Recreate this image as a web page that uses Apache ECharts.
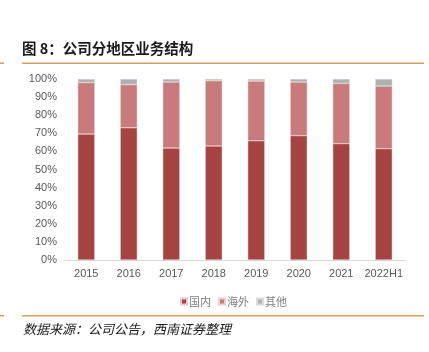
<!DOCTYPE html>
<html><head><meta charset="utf-8">
<script src="https://cdn.jsdelivr.net/npm/echarts@6/dist/echarts.min.js"></script>
<style>html,body{margin:0;padding:0;background:#fff}#c{width:429px;height:352px}</style>
</head><body><div id="c"></div>
<script>
const categories = ['2015','2016','2017','2018','2019','2020','2021','2022H1'];
const domestic = [69.6, 73.1, 61.9, 63.0, 65.9, 68.7, 64.3, 61.5];
const overseas = [28.4, 23.8, 36.4, 36.0, 33.0, 29.6, 33.3, 34.6];
const other = [2.0, 3.1, 1.7, 1.0, 1.1, 1.7, 2.4, 3.9];
const yTicks = [0,10,20,30,40,50,60,70,80,90,100];

const chart = echarts.init(document.getElementById('c'));
const font = '"Noto Sans CJK SC", "Liberation Sans", sans-serif';
chart.setOption({
  animation:false,
  textStyle:{fontFamily:font},
  grid:{left:65,right:24,top:79,bottom:92},
  legend:{
    data:['国内','海外','其他'], left:175, top:291,
    itemWidth:6, itemHeight:6, itemGap:7,
    icon:'rect',
    textStyle:{color:'#808080', fontSize:11, padding:[0,0,0,-3]}
  },
  xAxis:{
    type:'category', data:categories,
    axisLine:{lineStyle:{color:'#d9d9d9'}},
    axisTick:{show:false},
    axisLabel:{color:'#595959', fontSize:11, margin:8, interval:0, fontFamily:'"Liberation Sans", Arial, sans-serif'}
  },
  yAxis:{
    type:'value', min:0, max:100, interval:10,
    axisLine:{show:false}, axisTick:{show:false}, splitLine:{show:false},
    axisLabel:{color:'#595959', fontSize:11, margin:8, fontFamily:'"Liberation Sans", Arial, sans-serif',
      formatter:v=> yTicks.includes(v) ? v+'%' : ''}
  },
  series:[
    {name:'国内', type:'bar', stack:'a', data:domestic, barWidth:17,
     itemStyle:{color:'#A64442', borderColor:'#e8c8c8', borderWidth:0.5}},
    {name:'海外', type:'bar', stack:'a', data:overseas,
     itemStyle:{color:'#C97B7B', borderColor:'#ead0d0', borderWidth:0.5}},
    {name:'其他', type:'bar', stack:'a', data:other,
     itemStyle:{color:'#B0B0B0', borderColor:'#dcdcdc', borderWidth:0.5}}
  ],
  graphic:[
    {type:'text', left:22, top:41, style:{text:'图 8：公司分地区业务结构', font:'bold 14.5px '+font, fill:'#1a1a1a'}},
    {type:'rect', shape:{x:22,y:62.5,width:402,height:1.5}, style:{fill:'#D4A060'}},
    {type:'rect', shape:{x:0,y:62.5,width:4,height:1.5}, style:{fill:'#D4A060'}},
    {type:'rect', shape:{x:22,y:315,width:402,height:1.5}, style:{fill:'#D4A060'}},
    {type:'rect', shape:{x:0,y:315,width:4,height:1.5}, style:{fill:'#D4A060'}},
    {type:'text', left:23, top:322.5, style:{text:'数据来源：公司公告，西南证券整理', font:'italic 13px '+font, fill:'#1a1a1a'}}
  ]
});
</script></body></html>
